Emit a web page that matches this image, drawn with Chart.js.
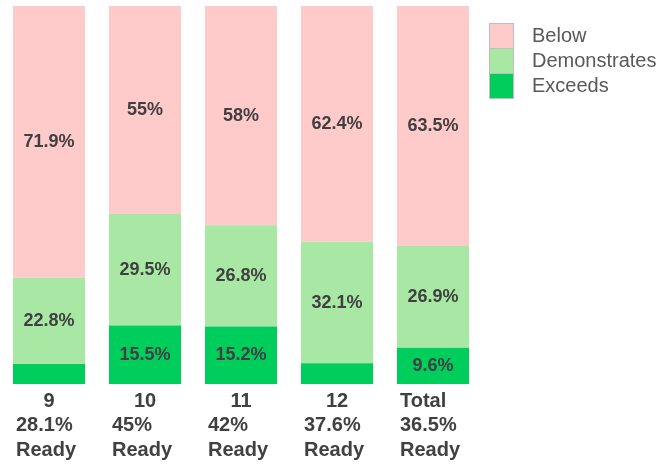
<!DOCTYPE html>
<html>
<head>
<meta charset="utf-8">
<script src="https://cdn.jsdelivr.net/npm/chart.js@4/dist/chart.umd.min.js"></script>
<style>
  body { margin: 0; background: #fff; }
  #wrap { width: 661px; height: 465px; }
</style>
</head>
<body>
<div id="wrap"><canvas id="readyChart"></canvas></div>
<script>
// Grade level data (percent of students)
const grades = ['9', '10', '11', '12', 'Total'];
const readyLabels = ['28.1%', '45%', '42%', '37.6%', '36.5%'];
const exceeds = [5.3, 15.5, 15.2, 5.5, 9.6];
const demonstrates = [22.8, 29.5, 26.8, 32.1, 26.9];
const below = [71.9, 55, 58, 62.4, 63.5];

const colors = {
    below: '#FFCACA',
    demonstrates: '#A8E8A4',
    exceeds: '#00CE5C'
};

// Draws the percentage inside each bar segment
const segmentLabels = {
    id: 'segmentLabels',
    afterDatasetsDraw(chart) {
        const ctx = chart.ctx;
        ctx.save();
        ctx.font = 'bold 18px "Liberation Sans", Arial, sans-serif';
        ctx.fillStyle = '#404040';
        ctx.textAlign = 'center';
        ctx.textBaseline = 'middle';
        chart.data.datasets.forEach((ds, i) => {
            chart.getDatasetMeta(i).data.forEach((bar, j) => {
                const v = ds.data[j];
                if (v < 8) return; // too small to label
                const mid = (bar.y + bar.base) / 2;
                ctx.fillText(v + '%', bar.x, mid);
            });
        });
        ctx.restore();
    }
};

// Category labels under the bars: first line centred, the rest left aligned
const categoryLabels = {
    id: 'categoryLabels',
    afterDraw(chart) {
        const ctx = chart.ctx;
        const x = chart.scales.x;
        const bottom = chart.chartArea.bottom;
        const meta = chart.getDatasetMeta(0);
        ctx.save();
        ctx.font = 'bold 20px "Liberation Sans", Arial, sans-serif';
        ctx.fillStyle = '#404040';
        ctx.textBaseline = 'middle';
        grades.forEach((g, i) => {
            const cx = x.getPixelForValue(i);
            const left = cx - meta.data[i].width / 2 + 3;
            if (g === 'Total') {
                ctx.textAlign = 'left';
                ctx.fillText(g, left, bottom + 17);
            } else {
                ctx.textAlign = 'center';
                ctx.fillText(g, cx, bottom + 17);
            }
            ctx.textAlign = 'left';
            ctx.fillText(readyLabels[i], left, bottom + 41);
            ctx.fillText('Ready', left, bottom + 66);
        });
        ctx.restore();
    }
};

// Legend on the right, swatches stacked with no gaps
const sideLegend = {
    id: 'sideLegend',
    afterDraw(chart) {
        const ctx = chart.ctx;
        const items = chart.data.datasets.slice().reverse();
        const x0 = 489, y0 = 23, size = 25;
        ctx.save();
        ctx.font = '20px "Liberation Sans", Arial, sans-serif';
        ctx.textBaseline = 'middle';
        ctx.textAlign = 'left';
        items.forEach((ds, k) => {
            const y = y0 + k * size;
            ctx.fillStyle = ds.backgroundColor;
            ctx.fillRect(x0, y, size, size);
            ctx.strokeStyle = '#bfbfbf';
            ctx.lineWidth = 1;
            ctx.strokeRect(x0 + 0.5, y + 0.5, size - 1, size);
            ctx.fillStyle = '#595959';
            ctx.fillText(ds.label, x0 + 43, y + size / 2 + 1);
        });
        ctx.restore();
    }
};

new Chart(document.getElementById('readyChart'), {
    type: 'bar',
    data: {
        labels: grades,
        datasets: [
            { label: 'Exceeds', data: exceeds, backgroundColor: colors.exceeds },
            { label: 'Demonstrates', data: demonstrates, backgroundColor: colors.demonstrates },
            { label: 'Below', data: below, backgroundColor: colors.below }
        ]
    },
    options: {
        responsive: true,
        maintainAspectRatio: false,
        animation: false,
        layout: { padding: { left: 1, right: 180, top: 6, bottom: 81 } },
        datasets: { bar: { barPercentage: 0.75, categoryPercentage: 1 } },
        scales: {
            x: { stacked: true, display: false },
            y: { stacked: true, display: false, min: 0, max: 100 }
        },
        plugins: {
            legend: { display: false },
            tooltip: { enabled: false }
        }
    },
    plugins: [segmentLabels, categoryLabels, sideLegend]
});
</script>
</body>
</html>
